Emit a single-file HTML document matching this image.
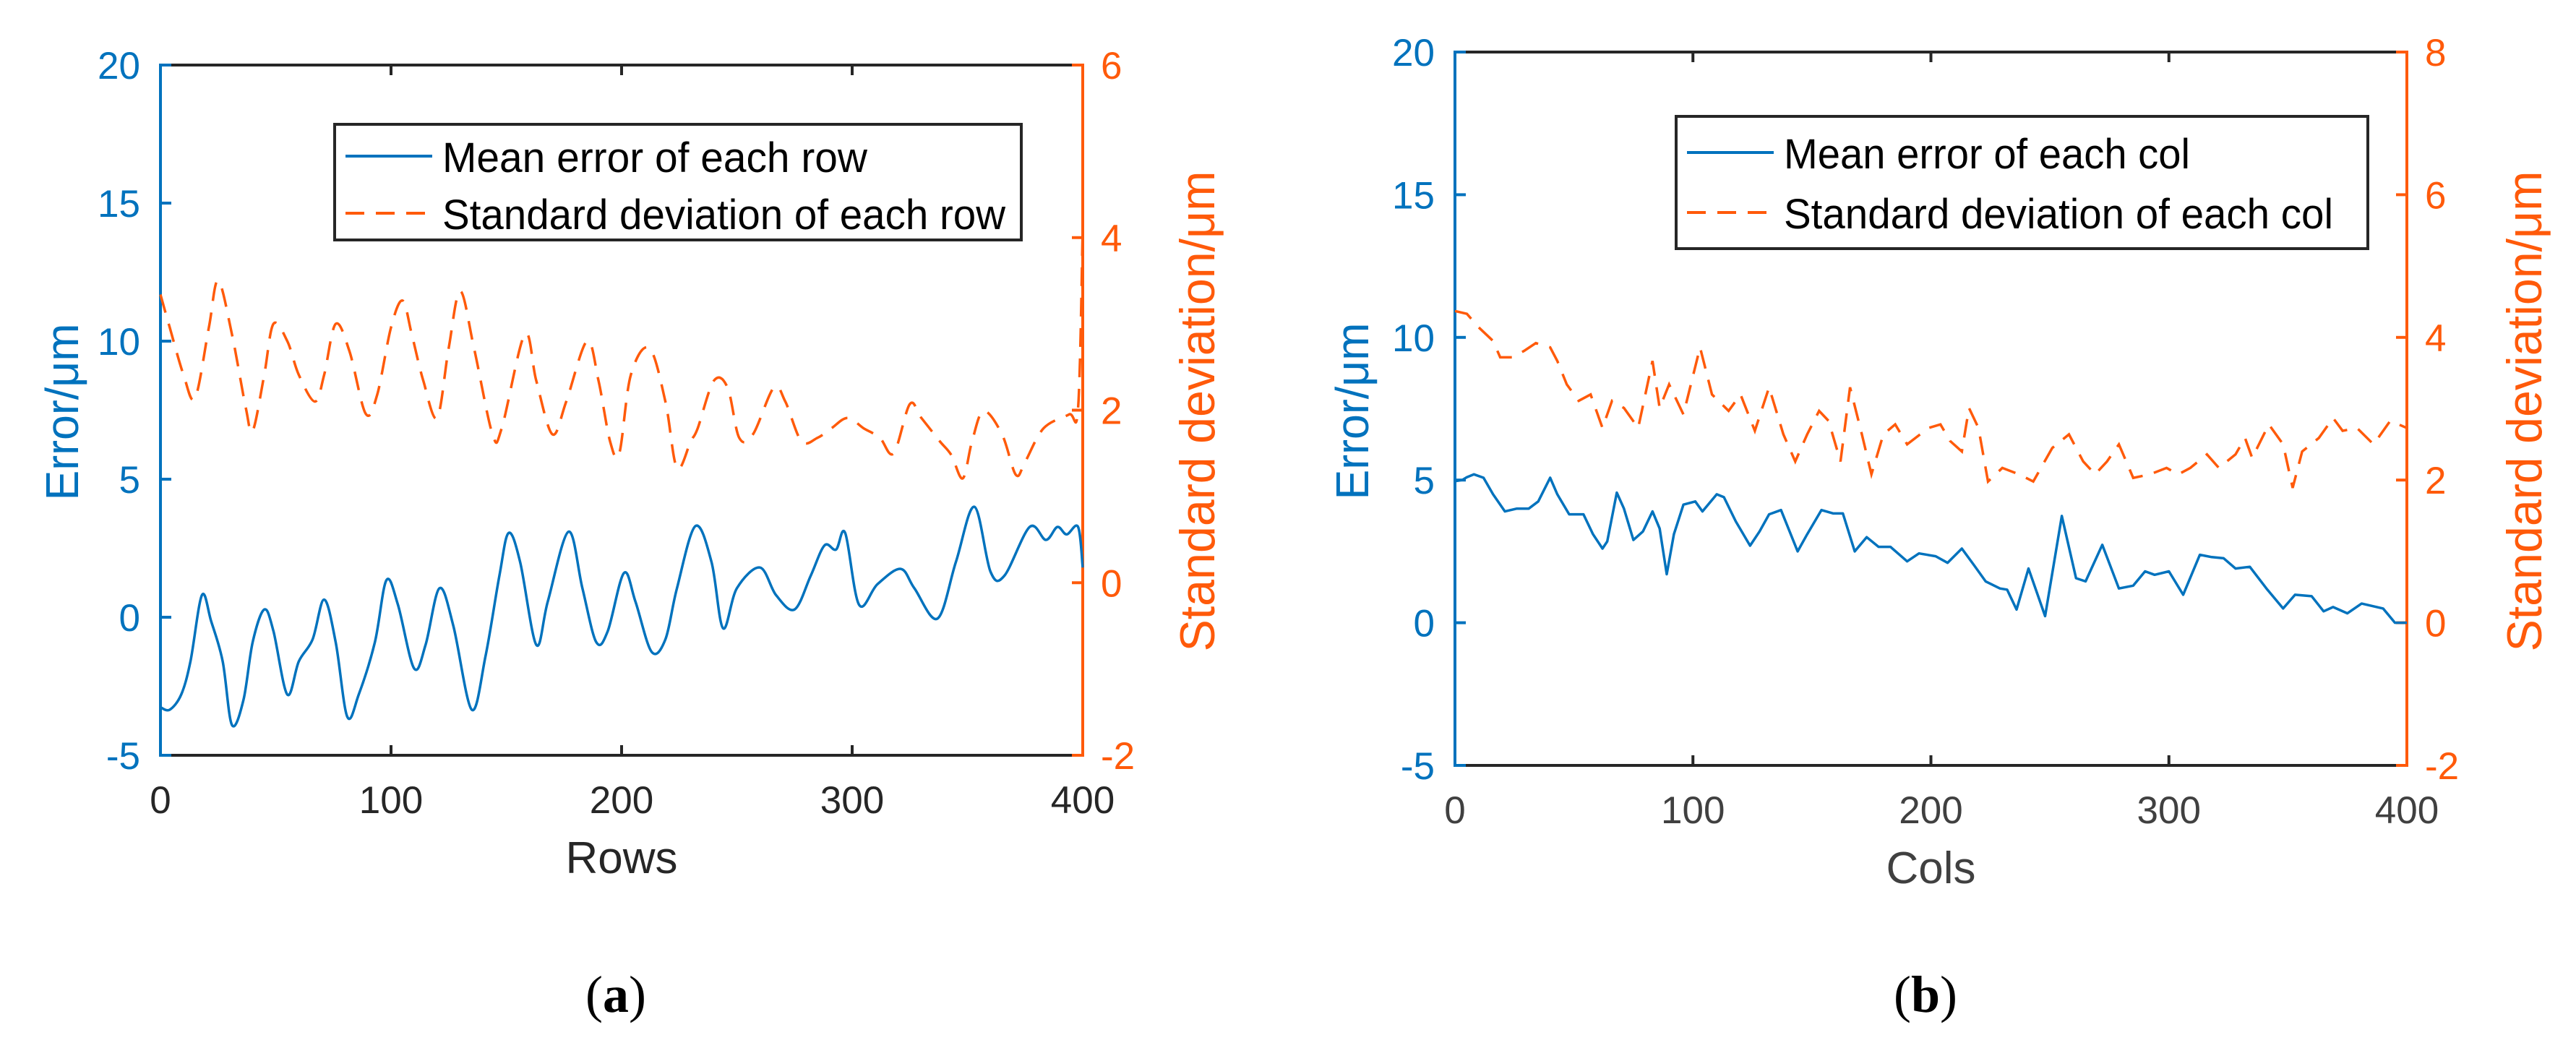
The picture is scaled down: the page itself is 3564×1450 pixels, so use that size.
<!DOCTYPE html>
<html><head><meta charset="utf-8"><style>
html,body{margin:0;padding:0;background:#fff;}
svg{display:block;}
text{font-family:"Liberation Sans",Arial,sans-serif;}
</style></head><body>
<svg id="fig" width="3564" height="1450" viewBox="0 0 3564 1450" xmlns="http://www.w3.org/2000/svg"></svg>
<script>
// ---- Panel (a) data ----
const rowsMeanX = [0,4,9,13,18,22,27,31,36,40,45,49,55,60,66,71,76,81,86,93,98,103,110,115,121,127,135,141,147,151,156,163,168,177,183,189,194,201,206,213,219,224,232,239,244,250,260,267,275,282,288,293,297,303,311,321,327,337,345,353,360,366,377,384,389,393,398,400];
const rowsMeanY = [-3.26,-3.35,-2.8,-1.6,0.8,-0.15,-1.6,-3.9,-3.0,-0.9,0.28,-0.5,-2.8,-1.6,-0.8,0.64,-0.9,-3.6,-2.8,-0.9,1.34,0.45,-1.85,-1.0,1.05,-0.3,-3.35,-1.4,1.5,3.05,2.0,-1.0,0.57,3.1,1.05,-0.9,-0.5,1.6,0.57,-1.25,-0.8,1.05,3.3,2.0,-0.4,1.05,1.8,0.8,0.28,1.5,2.6,2.45,3.05,0.45,1.2,1.75,1.05,-0.05,2.0,4.0,1.65,1.5,3.27,2.8,3.27,3.0,3.27,1.8];
const rowsStdX = [0,4,10,15,21,25,31,37,40,45,49,55,60,67,71,76,82,89,94,100,105,109,114,120,125,130,136,144,148,158,163,170,176,185,190,195,199,204,212,219,224,230,233,240,246,251,257,266,271,278,285,291,298,305,312,318,325,330,338,343,348,352,357,365,371,375,383,394,398,400];
const rowsStdY = [3.34,2.96,2.41,2.14,2.96,3.5,2.88,2.03,1.76,2.41,3.0,2.8,2.41,2.1,2.41,3.0,2.68,1.96,2.18,2.96,3.27,2.88,2.34,1.91,2.72,3.38,2.72,1.72,1.79,2.88,2.34,1.72,2.1,2.8,2.34,1.64,1.5,2.41,2.72,2.1,1.33,1.64,1.79,2.34,2.26,1.68,1.72,2.26,2.1,1.64,1.68,1.79,1.91,1.79,1.68,1.5,2.07,1.91,1.64,1.48,1.21,1.64,1.99,1.72,1.25,1.4,1.79,1.95,2.03,4.1];
// ---- Panel (b) data ----
const colsMeanX = [0,3,5,8,12,16,21,26,31,35,40,43,48,54,58,62,64,68,71,75,79,83,86,89,92,96,101,104,110,113,118,124,128,132,137,144,148,154,159,163,168,173,178,183,190,195,202,207,213,218,223,229,232,236,241,248,255,261,265,272,279,285,290,294,300,306,313,318,323,328,334,341,348,353,360,365,369,375,381,390,395,400];
const colsMeanY = [4.96,5.0,5.1,5.2,5.08,4.5,3.9,4.0,4.0,4.25,5.08,4.5,3.8,3.8,3.1,2.6,2.85,4.56,4.0,2.9,3.2,3.9,3.3,1.7,3.1,4.14,4.25,3.9,4.5,4.4,3.55,2.7,3.2,3.8,3.95,2.5,3.1,3.95,3.83,3.83,2.5,3.0,2.66,2.66,2.15,2.43,2.33,2.1,2.6,2.03,1.45,1.2,1.16,0.46,1.9,0.23,3.74,1.56,1.45,2.73,1.2,1.3,1.8,1.68,1.8,0.98,2.38,2.3,2.26,1.9,1.96,1.2,0.5,0.98,0.93,0.4,0.55,0.33,0.67,0.5,0.0,0.0];
const colsStdX = [0,5,10,16,19,24,29,34,40,43,47,52,57,62,66,71,77,83,86,90,96,103,108,115,120,126,132,138,143,148,153,157,162,166,171,175,180,185,190,199,204,208,213,216,220,224,230,237,243,251,258,264,269,274,279,285,292,299,304,309,316,321,328,332,335,342,348,352,356,363,369,373,379,386,393,400];
const colsStdY = [4.37,4.33,4.14,3.95,3.72,3.72,3.81,3.92,3.86,3.67,3.34,3.11,3.2,2.73,3.11,3.01,2.73,3.67,3.01,3.34,2.92,3.86,3.2,2.97,3.2,2.69,3.3,2.64,2.26,2.64,2.97,2.83,2.26,3.3,2.64,2.08,2.64,2.78,2.5,2.73,2.78,2.55,2.4,3.01,2.73,1.98,2.17,2.08,1.98,2.45,2.64,2.26,2.08,2.26,2.5,2.03,2.08,2.17,2.08,2.17,2.36,2.17,2.36,2.59,2.31,2.78,2.5,1.89,2.4,2.59,2.87,2.69,2.73,2.5,2.83,2.73];
// ticks
const xTicks = [0,100,200,300,400];
const leftTicks = [-5,0,5,10,15,20];
const rightTicksA = [-2,0,2,4,6];
const rightTicksB = [-2,0,2,4,6,8];

const NS = "http://www.w3.org/2000/svg";
const svg = document.getElementById('fig');
const BLUE = "#0072BD", ORANGE = "#FF5A0A";
function el(tag, attrs, parent){
  const e = document.createElementNS(NS, tag);
  for (const k in attrs) e.setAttribute(k, attrs[k]);
  (parent||svg).appendChild(e);
  return e;
}
function txt(str, attrs, parent){ const t = el('text', attrs, parent); t.textContent = str; return t; }

function smoothPath(pts){
  let d = "M"+pts[0][0].toFixed(1)+","+pts[0][1].toFixed(1);
  for (let i=0;i<pts.length-1;i++){
    const p0=pts[Math.max(0,i-1)], p1=pts[i], p2=pts[i+1], p3=pts[Math.min(pts.length-1,i+2)];
    const c1x=p1[0]+(p2[0]-p0[0])/6, c1y=p1[1]+(p2[1]-p0[1])/6;
    const c2x=p2[0]-(p3[0]-p1[0])/6, c2y=p2[1]-(p3[1]-p1[1])/6;
    d += " C"+c1x.toFixed(1)+","+c1y.toFixed(1)+" "+c2x.toFixed(1)+","+c2y.toFixed(1)+" "+p2[0].toFixed(1)+","+p2[1].toFixed(1);
  }
  return d;
}
function linPath(pts){ return pts.map((p,i)=>(i?"L":"M")+p[0].toFixed(1)+","+p[1].toFixed(1)).join(" "); }

function panel(cfg){
  const g = el('g', {});
  
  
  const {x0,x1,y0,y1} = cfg;
  const sx = v => x0 + (v-0)/400*(x1-x0);
  const syL = v => y1 - (v-(-5))/25*(y1-y0);
  const syR = v => y1 - (v-cfg.rMin)/(cfg.rMax-cfg.rMin)*(y1-y0);
  const tc = cfg.tickColor;
  const top = el('line',{x1:x0,y1:y0,x2:x1,y2:y0,stroke:"#262626","stroke-width":4},g);
   
  const bot = el('line',{x1:x0,y1:y1,x2:x1,y2:y1,stroke:"#262626","stroke-width":4},g);
   
  xTicks.forEach(t=>{
    const x = sx(t);
    el('line',{x1:x,y1:y1,x2:x,y2:y1-14,stroke:"#262626","stroke-width":4},g);
    el('line',{x1:x,y1:y0,x2:x,y2:y0+14,stroke:"#262626","stroke-width":4},g);
    const l = txt(String(t),{x:x,y:y1+80,"font-size":53,"text-anchor":"middle",fill:tc},g);
     
  });
  const la = el('line',{x1:x0,y1:y0-2,x2:x0,y2:y1+2,stroke:BLUE,"stroke-width":4},g);
   
  leftTicks.forEach(t=>{
    const y = syL(t);
    el('line',{x1:x0,y1:y,x2:x0+15,y2:y,stroke:BLUE,"stroke-width":4},g);
    const l = txt(String(t),{x:x0-28,y:y+19,"font-size":53,"text-anchor":"end",fill:BLUE},g);
     
  });
  const ra = el('line',{x1:x1,y1:y0-2,x2:x1,y2:y1+2,stroke:ORANGE,"stroke-width":4},g);
   
  cfg.rTicks.forEach(t=>{
    const y = syR(t);
    el('line',{x1:x1,y1:y,x2:x1-15,y2:y,stroke:ORANGE,"stroke-width":4},g);
    const l = txt(String(t),{x:x1+25,y:y+19,"font-size":53,"text-anchor":"start",fill:ORANGE},g);
     
  });
  const mp = cfg.meanX.map((v,i)=>[sx(v), syL(cfg.meanY[i])]);
  const sp = cfg.stdX.map((v,i)=>[sx(v), syR(cfg.stdY[i])]);
  const pathFn = cfg.smooth ? smoothPath : linPath;
  const m = el('path',{d:pathFn(mp),fill:"none",stroke:BLUE,"stroke-width":3.5,"stroke-linejoin":"round"},g);
   
  const s = el('path',{d:pathFn(sp),fill:"none",stroke:ORANGE,"stroke-width":3.5,"stroke-dasharray":"26 16"},g);
   
  const lt = txt("Error/μm",{x:0,y:0,"font-size":64,"text-anchor":"middle",fill:BLUE,textLength:245,lengthAdjust:"spacingAndGlyphs",transform:`translate(${cfg.ltX},${cfg.ltY}) rotate(-90)`},g);
   
  const rt = txt("Standard deviation/μm",{x:0,y:0,"font-size":68,"text-anchor":"middle",fill:ORANGE,textLength:665,lengthAdjust:"spacingAndGlyphs",transform:`translate(${cfg.rtX},${cfg.rtY}) rotate(-90)`},g);
   
  const xt = txt(cfg.xTitle,{x:(x0+x1)/2,y:y1+163,"font-size":62,"text-anchor":"middle",fill:tc},g);
   
  const L = cfg.leg;
  const lg = el('g',{},g);
   
  el('rect',{x:L.x,y:L.y,width:L.w,height:L.h,fill:"#fff",stroke:"#262626","stroke-width":4},lg);
  el('line',{x1:L.x+15,y1:L.y+L.r1-22,x2:L.x+135,y2:L.y+L.r1-22,stroke:BLUE,"stroke-width":4},lg);
  el('line',{x1:L.x+15,y1:L.y+L.r2-22,x2:L.x+135,y2:L.y+L.r2-22,stroke:ORANGE,"stroke-width":4,"stroke-dasharray":"26 16"},lg);
  const e1 = txt(L.t1,{x:L.x+149,y:L.y+L.r1,"font-size":58,fill:"#000",textLength:L.w1,lengthAdjust:"spacingAndGlyphs"},lg);
   
  const e2 = txt(L.t2,{x:L.x+149,y:L.y+L.r2,"font-size":58,fill:"#000",textLength:L.w2,lengthAdjust:"spacingAndGlyphs"},lg);
   
  const cap = el('text',{x:cfg.capX,y:1400,"font-size":72,"text-anchor":"middle",fill:"#000",style:'font-family:"Liberation Serif",serif'},g);
   
  cap.innerHTML = '(<tspan font-weight="bold">'+cfg.cap+'</tspan>)';
}

panel({name:'panel-a-rows',x0:222,x1:1498,y0:90,y1:1045,rMin:-2,rMax:6,rTicks:rightTicksA,
  meanX:rowsMeanX,meanY:rowsMeanY,stdX:rowsStdX,stdY:rowsStdY,smooth:true,tickColor:"#262626",
  ltX:108,ltY:570,rtX:1680,rtY:569,xTitle:"Rows",capX:852,cap:"a",
  leg:{x:463,y:172,w:950,h:160,r1:66,r2:145,t1:"Mean error of each row",t2:"Standard deviation of each row",w1:588,w2:779}});
panel({name:'panel-b-cols',x0:2013,x1:3330,y0:72,y1:1059,rMin:-2,rMax:8,rTicks:rightTicksB,
  meanX:colsMeanX,meanY:colsMeanY,stdX:colsStdX,stdY:colsStdY,smooth:false,tickColor:"#404040",
  ltX:1893,ltY:569,rtX:3516,rtY:569,xTitle:"Cols",capX:2664,cap:"b",
  leg:{x:2319,y:161,w:957,h:183,r1:72,r2:155,t1:"Mean error of each col",t2:"Standard deviation of each col",w1:562,w2:760}});
</script>
</body></html>
